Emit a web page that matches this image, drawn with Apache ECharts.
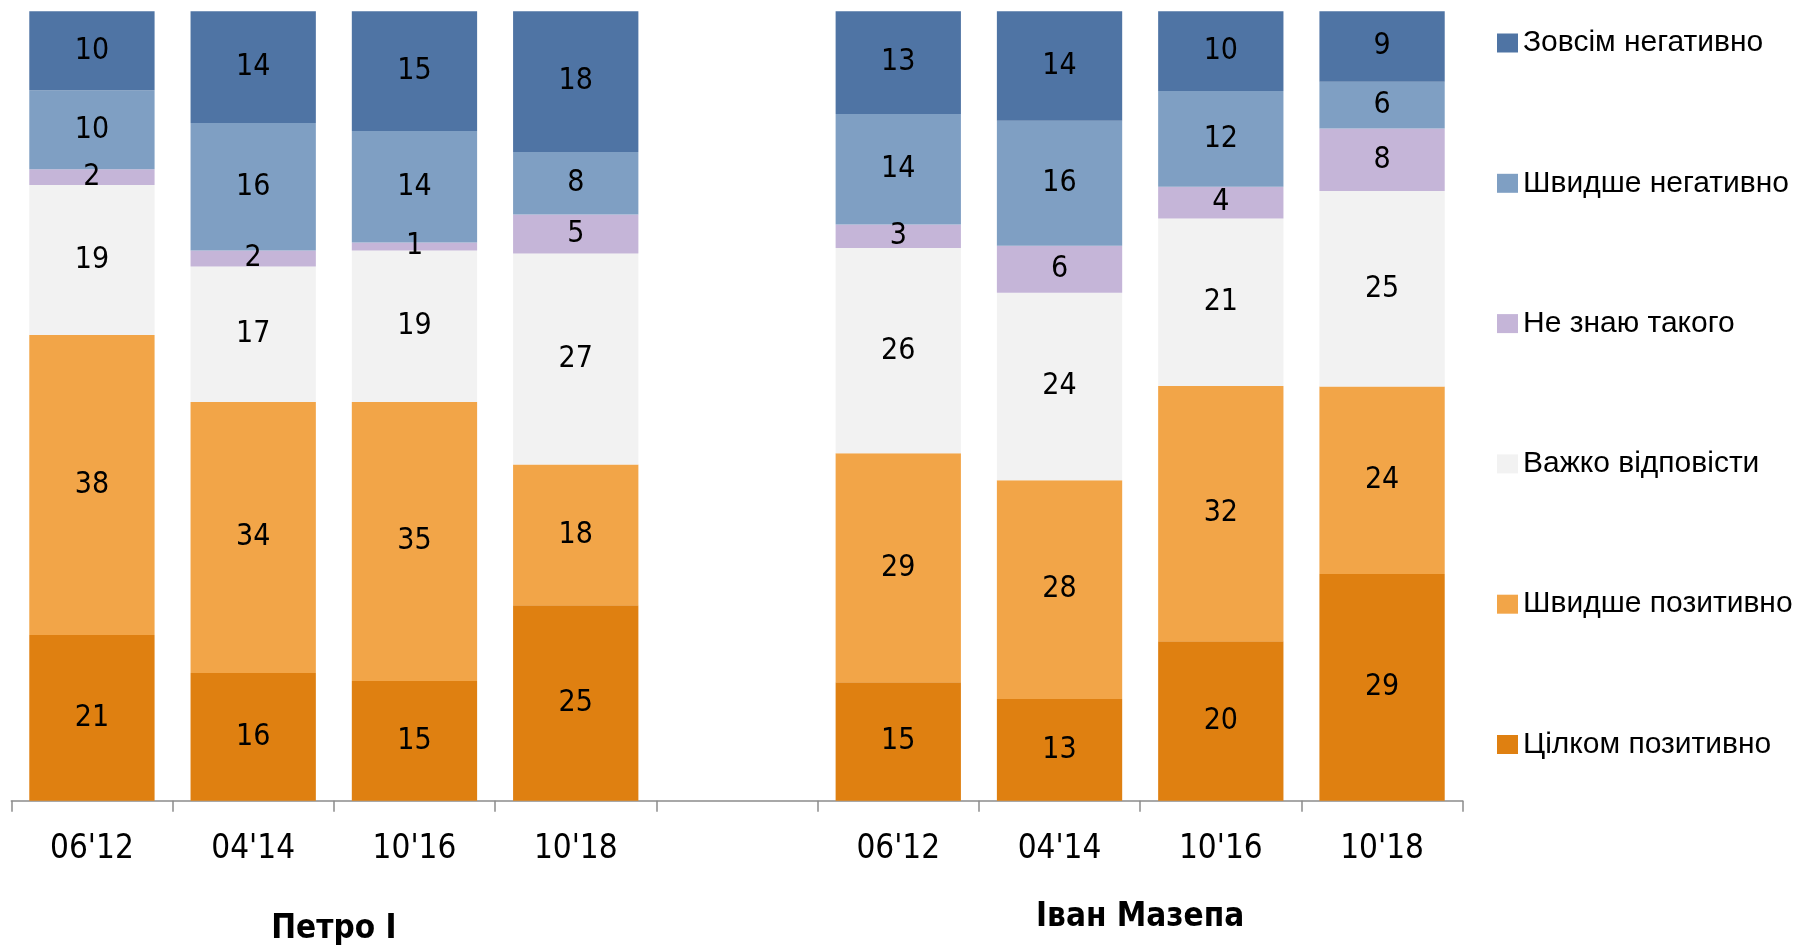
<!DOCTYPE html>
<html lang="uk">
<head>
    <meta charset="UTF-8">
    <title>Ставлення до Петра I та Івана Мазепи</title>
    <script type="text/javascript" src="https://cdn.jsdelivr.net/npm/echarts@6/dist/echarts.min.js"></script>
    <style>
        html, body { margin: 0; padding: 0; background: #fff; }
        #main { width: 1800px; height: 952px; }
    </style>
</head>
<body>
<div id="main"></div>
<script type="text/javascript">
    // x categories: 4 waves for each person, with an empty slot between the groups
    var waves = ["06'12", "04'14", "10'16", "10'18", '', "06'12", "04'14", "10'16", "10'18"];
    var groups = ['Петро I', 'Іван Мазепа'];

    // answers, bottom of the stack first
    var answers = ['Цілком позитивно', 'Швидше позитивно', 'Важко відповісти',
                   'Не знаю такого', 'Швидше негативно', 'Зовсім негативно'];
    var colors = ['#DF8011', '#F2A548', '#F2F2F2', '#C5B5D8', '#7F9FC3', '#4F74A4'];

    // values per answer, one per category (null = gap)
    var fullyPositive  = [21, 16, 15, 25, null, 15, 13, 20, 29];
    var ratherPositive = [38, 34, 35, 18, null, 29, 28, 32, 24];
    var hardToSay      = [19, 17, 19, 27, null, 26, 24, 21, 25];
    var dontKnow       = [2, 2, 1, 5, null, 3, 6, 4, 8];
    var ratherNegative = [10, 16, 14, 8, null, 14, 16, 12, 6];
    var fullyNegative  = [10, 14, 15, 18, null, 13, 14, 10, 9];

    var values = [fullyPositive, ratherPositive, hardToSay, dontKnow, ratherNegative, fullyNegative];

    // every column is drawn as 100%
    var totals = waves.map(function (w, i) {
        var s = 0;
        values.forEach(function (arr) { s += arr[i] || 0; });
        return s;
    });

    var font = "'Liberation Sans Narrow', 'Arial Narrow', 'DejaVu Sans Condensed', sans-serif";

    var series = answers.map(function (name, k) {
        return {
            name: name,
            type: 'bar',
            stack: 'all',
            barWidth: '77.7%',
            itemStyle: { color: colors[k] },
            label: {
                show: true,
                position: 'inside',
                color: '#000',
                fontFamily: font,
                fontSize: 30,
                formatter: function (p) { return p.data.raw == null ? '' : p.data.raw; }
            },
            data: values[k].map(function (v, i) {
                if (v == null) return { value: '-', raw: null };
                return { value: v / totals[i] * 100, raw: v };
            })
        };
    });

    var myChart = echarts.init(document.getElementById('main'));

    var option = {
        animation: false,
        color: colors,
        grid: {
            left: 11.3,
            right: 337.3,
            top: 11.3,
            bottom: 151.3
        },
        legend: {
            orient: 'vertical',
            left: 1492,
            top: 23,
            itemWidth: 21,
            itemHeight: 19,
            itemGap: 110.3,
            icon: 'rect',
            selectedMode: false,
            data: answers.slice().reverse(),
            textStyle: {
                fontFamily: "'Liberation Sans', Arial, sans-serif",
                fontSize: 30,
                lineHeight: 30,
                color: '#000'
            }
        },
        xAxis: [{
            type: 'category',
            data: waves,
            axisLine: { show: true, lineStyle: { color: '#8c8c8c', width: 1.5 } },
            axisTick: { show: true, alignWithLabel: false, length: 11, lineStyle: { color: '#8c8c8c', width: 1.5 } },
            axisLabel: {
                interval: 0,
                margin: 32,
                color: '#000',
                fontFamily: font,
                fontSize: 33
            }
        }, {
            type: 'value',
            position: 'bottom',
            min: 0,
            max: 9,
            interval: 1,
            axisLine: { show: false },
            axisTick: { show: false },
            splitLine: { show: false },
            axisLabel: {
                margin: 117,
                verticalAlign: 'middle',
                formatter: function (v) {
                    if (v === 2) return '{g0|' + groups[0] + '}';
                    if (v === 7) return '{g1|' + groups[1] + '}';
                    return '';
                },
                rich: {
                    g0: { fontFamily: font, fontWeight: 'bold', fontSize: 33, color: '#000', padding: [24, 0, 0, 0] },
                    g1: { fontFamily: font, fontWeight: 'bold', fontSize: 33, color: '#000' }
                }
            }
        }],
        yAxis: {
            type: 'value',
            min: 0,
            max: 100,
            show: false
        },
        series: series
    };

    myChart.setOption(option);
    window.onresize = function () { myChart.resize(); };
</script>
</body>
</html>
